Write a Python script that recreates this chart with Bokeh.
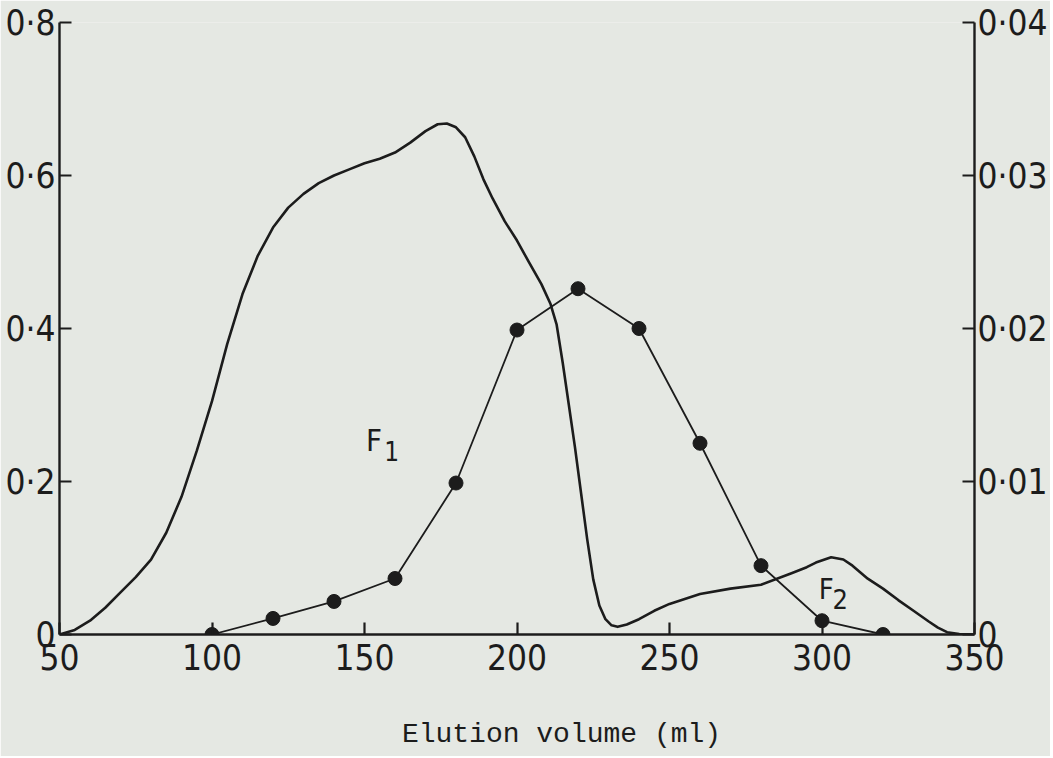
from bokeh.plotting import figure
from bokeh.models import Range1d, LinearAxis, FixedTicker, CustomJSTickFormatter
from bokeh.core.properties import value
from bokeh.embed import file_html
from bokeh.resources import INLINE

# F1/F2 absorbance profile (left axis)
curve_x = [50, 55, 60, 65, 70, 75, 80, 85, 90, 95, 100, 105, 110, 115, 120, 125, 130, 135,
           140, 145, 150, 155, 160, 165, 170, 174, 177, 180, 183, 186, 189, 192, 196, 200,
           204, 208, 211, 213, 215, 217, 219, 221, 223, 225, 227, 229, 231, 233, 236, 240,
           245, 250, 260, 270, 280, 290, 295, 298, 303, 307, 310, 315, 320, 325, 330, 335,
           338, 341, 345, 350]
curve_y = [0, 0.006, 0.018, 0.035, 0.055, 0.075, 0.098, 0.133, 0.180, 0.240, 0.305, 0.380,
           0.445, 0.495, 0.532, 0.558, 0.576, 0.590, 0.600, 0.608, 0.616, 0.622, 0.630, 0.643,
           0.658, 0.667, 0.668, 0.663, 0.650, 0.625, 0.595, 0.570, 0.540, 0.515, 0.486, 0.458,
           0.432, 0.405, 0.355, 0.300, 0.245, 0.185, 0.125, 0.072, 0.038, 0.020, 0.012, 0.010,
           0.013, 0.020, 0.031, 0.040, 0.053, 0.060, 0.065, 0.080, 0.088, 0.094, 0.101, 0.098,
           0.090, 0.073, 0.060, 0.045, 0.031, 0.017, 0.009, 0.003, 0.0005, 0]

# dotted series (right axis)
dot_x = [100, 120, 140, 160, 180, 200, 220, 240, 260, 280, 300, 320]
dot_y = [0, 0.00105, 0.00216, 0.00366, 0.0099, 0.0199, 0.0226, 0.020, 0.0125, 0.0045, 0.0009, 0]

x_ticks = [50, 100, 150, 200, 250, 300, 350]
left_ticks = [0, 0.2, 0.4, 0.6, 0.8]
right_ticks = [0, 0.01, 0.02, 0.03, 0.04]
x_title = "Elution volume (ml)"

BG = "#e5e8e3"
INK = "#1c1c1c"
TICK_FONT = "'DejaVu Sans Condensed', 'DejaVu Sans', sans-serif"

p = figure(width=1050, height=756, output_backend="svg", toolbar_location=None,
           x_range=Range1d(50, 350), y_range=Range1d(0, 0.8),
           min_border_left=59, min_border_right=73, min_border_top=22, min_border_bottom=122)
p.extra_y_ranges = {"right": Range1d(0, 0.04)}
p.background_fill_color = BG
p.border_fill_color = BG
p.outline_line_color = None
p.grid.visible = False

p.line(curve_x, curve_y, line_color=INK, line_width=2.6, line_join="round")
p.line(dot_x, dot_y, line_color=INK, line_width=1.8, y_range_name="right")
p.scatter(dot_x, dot_y, size=14, fill_color=INK, line_color=INK, y_range_name="right")

# labels F1 and F2
p.text(x=[153.1], y=[0.254], text=["F"], text_font=value(TICK_FONT), text_font_size="31px",
       text_align="center", text_baseline="middle", text_color=INK)
p.text(x=[158.9], y=[0.240], text=["1"], text_font=value(TICK_FONT), text_font_size="26px",
       text_align="center", text_baseline="middle", text_color=INK)
p.text(x=[301.4], y=[0.059], text=["F"], text_font=value(TICK_FONT), text_font_size="29px",
       text_align="center", text_baseline="middle", text_color=INK)
p.text(x=[306.0], y=[0.047], text=["2"], text_font=value(TICK_FONT), text_font_size="27px",
       text_align="center", text_baseline="middle", text_color=INK)

def style(ax):
    ax.axis_line_color = INK
    ax.axis_line_width = 2.4
    ax.major_tick_line_color = INK
    ax.major_tick_line_width = 2.2
    ax.major_tick_in = 12
    ax.major_tick_out = 0
    ax.minor_tick_line_color = None
    ax.major_label_text_font = TICK_FONT
    ax.major_label_text_font_size = "35px"
    ax.major_label_text_color = INK

xa = p.xaxis[0]
style(xa)
xa.ticker = FixedTicker(ticks=x_ticks)
xa.major_label_standoff = 9

# x-axis title, set slightly right of the frame centre as in the original
ta = LinearAxis(ticker=FixedTicker(ticks=[214.6]),
                formatter=CustomJSTickFormatter(code="return '%s';" % x_title))
ta.axis_line_color = None
ta.major_tick_line_color = None
ta.minor_tick_line_color = None
ta.major_label_standoff = 40
ta.major_label_text_font = "Liberation Mono"
ta.major_label_text_font_size = "28px"
ta.major_label_text_color = INK
p.add_layout(ta, "below")

ya = p.yaxis[0]
style(ya)
ya.ticker = FixedTicker(ticks=left_ticks)
ya.major_label_standoff = 4
ya.formatter = CustomJSTickFormatter(code="return tick == 0 ? '0' : tick.toFixed(1).replace('.', '\u00b7');")

ra = LinearAxis(y_range_name="right")
style(ra)
ra.ticker = FixedTicker(ticks=right_ticks)
ra.major_label_standoff = 3
ra.formatter = CustomJSTickFormatter(code="return tick == 0 ? '0' : tick.toFixed(2).replace('.', '\u00b7');")
p.add_layout(ra, "right")

open("out.html", "w").write(file_html(p, INLINE))
